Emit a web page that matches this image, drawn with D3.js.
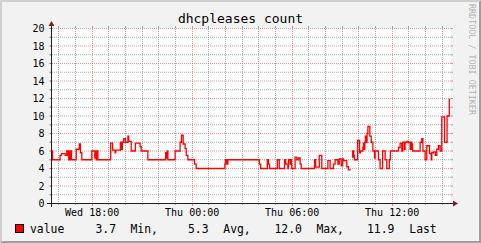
<!DOCTYPE html>
<html>
<head>
<meta charset="utf-8">
<script src="https://cdn.jsdelivr.net/npm/d3@7"></script>
<style>
body { margin: 0; background: #f2f2f2; }
svg { display: block; }
text { font-family: "DejaVu Sans Mono", monospace; }
</style>
</head>
<body>
<div id="main"></div>
<script>
// chart data
const title = "dhcpleases count"
const startTime = new Date(2020, 0, 1, 15, 33, 36)   // a Wednesday
const spanMinutes = 1440
const endMinute = 1435
const yTicks = [0, 2, 4, 6, 8, 10, 12, 14, 16, 18, 20]
// step series: minutes after start, value held until the next entry
const minutes = [0, 4, 31, 36, 49, 55, 58, 60, 62, 65, 67, 69, 72, 89, 100, 104, 109,
    145, 156, 158, 161, 163, 167, 213, 220, 229, 231, 248, 252, 255, 260, 266, 275, 278,
    287, 302, 319, 323, 347, 411, 414, 417, 419, 445, 463, 468, 474, 481, 485, 491, 515,
    521, 624, 626, 629, 631, 634, 635, 748, 753, 777, 781, 785, 813, 820, 839, 843, 851,
    853, 859, 861, 864, 865, 877, 883, 889, 895, 899, 947, 949, 950, 951, 964, 973, 995,
    1003, 1015, 1021, 1031, 1036, 1043, 1048, 1051, 1063, 1069, 1077, 1081, 1084, 1086,
    1088, 1090, 1102, 1109, 1112, 1121, 1123, 1126, 1128, 1130, 1134, 1136, 1139, 1146,
    1151, 1157, 1163, 1165, 1177, 1183, 1192, 1201, 1207, 1216, 1220, 1249, 1255, 1261,
    1265, 1271, 1273, 1279, 1285, 1291, 1293, 1296, 1299, 1300, 1327, 1333, 1337, 1345,
    1351, 1361, 1367, 1369, 1375, 1382, 1387, 1393, 1399, 1405, 1415, 1424, 1432]
const values = [6, 5, 5.5, 5.7, 5.5, 6, 5.5, 6, 5, 6, 5, 6, 5, 6.2, 6.8, 5.8, 5,
    6, 5.2, 6, 5, 6, 5, 6.9, 6.1, 5.8, 6.1, 7, 6.2, 7, 7.4, 7, 7.7, 7.1,
    6, 6.9, 6.5, 6, 5, 5.8, 5.2, 6, 5, 6, 7, 7.8, 6.8, 6.3, 5.5, 5, 4.5,
    4, 4.5, 5, 4.5, 5, 4.5, 5, 4.5, 4, 5, 4.5, 4, 5, 4, 5, 4.5, 4,
    5, 4.5, 5, 4.5, 4, 5.3, 5, 5.2, 4.5, 4, 5, 4.4, 5, 4.15, 5.5, 4, 4.9,
    4, 4.5, 5, 4.5, 5.1, 4.3, 5.1, 4.9, 4.2, 3.85, NaN, 6, 5.3, 6,
    5.5, 5, 7.2, 5.8, 6, 6.4, 6.9, 6.2, 7, 7.7, 7, 8, 8.8, 7.7,
    7, 6, 5.2, 6, 5, 4, 6, 5, 4, 5, 6, 6.4, 6.9, 6,
    7, 6.2, 7, 7.1, 7, 6.2, 7, 6.2, 6.8, 6, 7, 7.4, 6, 5,
    6.6, 5.7, 5, 5.8, 5.9, 5.5, 6.2, 6.6, 6, 9.9, 7, 10, 11.9]
const legendName = "value"
const legendNums = ["3.7", "5.3", "12.0", "11.9"]
const legendWords = ["Min,", "Avg,", "Max,", "Last"]

const W = 481, H = 243
const x0 = 51, x1 = 451, y0 = 203, y1 = 28

const svg = d3.select("#main").append("svg")
    .attr("width", W)
    .attr("height", H)

// background and 3d border
svg.append("rect").attr("width", W).attr("height", H).attr("fill", "#f2f2f2")
svg.append("path").attr("d", `M0,${H}L2,${H-2}L2,2L${W-2},2L${W},0L0,0Z`).attr("fill", "#cfcfcf")
svg.append("path").attr("d", `M2,${H-2}L${W-2},${H-2}L${W-2},2L${W},0L${W},${H}L0,${H}Z`).attr("fill", "#9e9e9e")
svg.append("rect").attr("x", x0).attr("y", y1).attr("width", x1 - x0).attr("height", y0 - y1).attr("fill", "#fff")

const toDate = m => new Date(startTime.getTime() + m * 60000)
const scX = d3.scaleTime().domain([startTime, toDate(spanMinutes)]).range([x0 + 0.5, x1 + 0.5])
const scY = d3.scaleLinear().domain([0, 20]).range([y0 + 0.5, y1 + 0.5])

const gridCol = "rgba(143,143,143,0.75)"
const mgridCol = "rgba(222,79,79,0.6)"

// horizontal grid
let g = svg.append("g")
d3.range(1, 21).forEach(v => {
    let major = v % 2 == 0
    let y = scY(v)
    let c = major ? mgridCol : gridCol
    g.append("line").attr("x1", x0 - 1).attr("x2", x1 + 1).attr("y1", y).attr("y2", y)
        .attr("stroke", c).attr("stroke-dasharray", "1,1")
    g.append("line").attr("x1", x0 - 2).attr("x2", x0).attr("y1", y).attr("y2", y).attr("stroke", c)
    g.append("line").attr("x1", x1).attr("x2", x1 + 2).attr("y1", y).attr("y2", y).attr("stroke", c)
})

// vertical grid
let hours = d3.timeHour.every(1).range(startTime, toDate(spanMinutes))
hours.forEach(t => {
    let major = t.getHours() % 6 == 0
    let x = Math.round(scX(t) - 0.5) + 0.5
    let c = major ? mgridCol : gridCol
    g.append("line").attr("x1", x).attr("x2", x).attr("y1", y1 - 1).attr("y2", y0 + 1)
        .attr("stroke", c).attr("stroke-dasharray", "1,1")
    g.append("line").attr("x1", x).attr("x2", x).attr("y1", y1 - 2).attr("y2", y1).attr("stroke", c)
    g.append("line").attr("x1", x).attr("x2", x).attr("y1", y0).attr("y2", y0 + (major ? 3 : 2)).attr("stroke", c)
})

// axes
svg.append("line").attr("x1", x0 - 4).attr("x2", x1 + 4).attr("y1", y0 + 0.5).attr("y2", y0 + 0.5)
    .attr("stroke", "#1f1f1f")
svg.append("line").attr("x1", x0 + 0.5).attr("x2", x0 + 0.5).attr("y1", y0 + 4).attr("y2", y1 - 4)
    .attr("stroke", "#1f1f1f")
svg.append("path").attr("d", `M${x1 + 2},${y0 - 2.5}L${x1 + 2},${y0 + 3.5}L${x1 + 7},${y0 + 0.5}Z`).attr("fill", "#801f1f")
svg.append("path").attr("d", `M${x0 - 2.5},${y1 - 2}L${x0 + 3.5},${y1 - 2}L${x0 + 0.5},${y1 - 7}Z`).attr("fill", "#801f1f")

// y labels
svg.append("g").selectAll("text").data(yTicks).enter()
    .append("text")
    .attr("x", 44.5)
    .attr("y", d => scY(d) + 3.6)
    .attr("text-anchor", "end")
    .attr("font-size", 10)
    .text(d => d)

// x labels
let fmt = d3.timeFormat("%a %H:%M")
svg.append("g").selectAll("text").data(hours.filter(t => t.getHours() % 6 == 0)).enter()
    .append("text")
    .attr("x", d => scX(d))
    .attr("y", 216)
    .attr("text-anchor", "middle")
    .attr("font-size", 10)
    .text(d => fmt(d))

// series
let pts = []
minutes.forEach((m, i) => {
    let next = i < minutes.length - 1 ? minutes[i + 1] : endMinute
    pts.push([m, values[i]], [next, values[i]])
})
let makeLine = d3.line()
    .defined(d => !isNaN(d[1]))
    .x(d => scX(toDate(d[0])))
    .y(d => scY(d[1]))
svg.append("path")
    .attr("d", makeLine(pts))
    .attr("fill", "none")
    .attr("stroke", "#ff0000")
    .attr("stroke-width", 1.3)

// title
svg.append("text").attr("x", 240.5).attr("y", 23).attr("text-anchor", "middle")
    .attr("font-size", 13).text(title)

// watermark
svg.append("text").attr("transform", "translate(468.5,4) rotate(90)")
    .attr("font-size", 8.4).attr("fill", "rgba(0,0,0,0.3)")
    .text("RRDTOOL / TOBI OETIKER")

// legend
svg.append("rect").attr("x", 15.5).attr("y", 224.5).attr("width", 8).attr("height", 8)
    .attr("fill", "#ff0000").attr("stroke", "#000")
let lg = svg.append("g").attr("font-size", 11.4)
lg.append("text").attr("x", 30).attr("y", 232.5).text(legendName)
let numX = [95.5, 188, 274.5, 367], wordX = [130.5, 223.3, 316.5, 409.3]
legendNums.forEach((s, i) => {
    lg.append("text").attr("x", numX[i]).attr("y", 232.5).text(s)
    lg.append("text").attr("x", wordX[i]).attr("y", 232.5).text(legendWords[i])
})
</script>
</body>
</html>
